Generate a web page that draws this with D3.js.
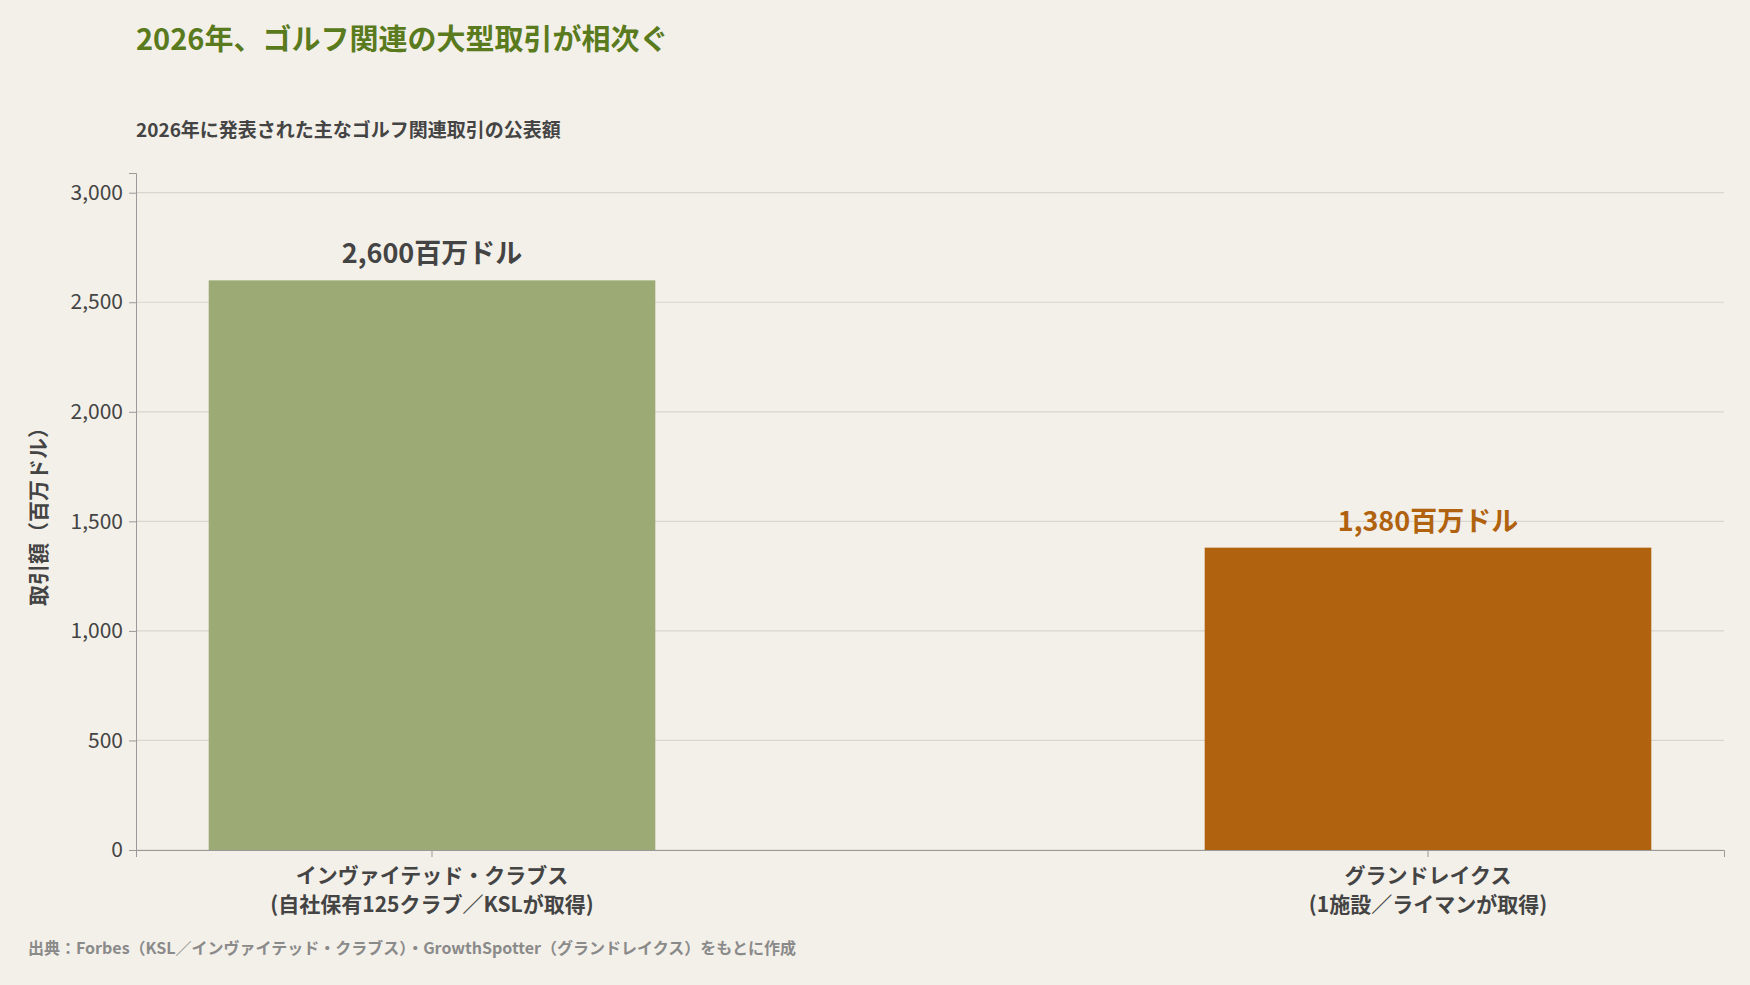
<!DOCTYPE html>
<html><head><meta charset="utf-8">
<script src="https://cdn.jsdelivr.net/npm/d3@7"></script>
<style>
body{margin:0;background:#f3f0e9;font-family:"Noto Sans CJK JP","Noto Sans",sans-serif;}
</style></head><body>
<script>
var categories = ["インヴァイテッド・クラブス\n(自社保有125クラブ／KSLが取得)", "グランドレイクス\n(1施設／ライマンが取得)"];
var values = [2600, 1380];
var valueLabels = ["2,600百万ドル", "1,380百万ドル"];
var barColors = ["#9caa76", "#b0620f"];
var labelColors = ["#444444", "#b0620f"];
var yTicks = [0, 500, 1000, 1500, 2000, 2500, 3000];

var W = 1750, H = 985;
var margin = {top: 173, right: 26, bottom: 135, left: 136};
var w = W - margin.left - margin.right;
var h = H - margin.top - margin.bottom;

var svg = d3.select("body").append("svg").attr("width", W).attr("height", H);
svg.append("rect").attr("width", W).attr("height", H).attr("fill", "#f3f0e9");

svg.append("text").attr("x", 136).attr("y", 50).attr("font-size", 29).attr("font-weight", 700)
  .attr("fill", "#5a7a1e").text("2026年、ゴルフ関連の大型取引が相次ぐ");
svg.append("text").attr("x", 136).attr("y", 137).attr("font-size", 19).attr("font-weight", 700)
  .attr("fill", "#444").text("2026年に発表された主なゴルフ関連取引の公表額");

var g = svg.append("g").attr("transform", "translate(" + margin.left + "," + margin.top + ")");

var y = d3.scaleLinear().domain([0, 3090]).range([h, 0]);
var x = d3.scaleBand().domain(categories).range([0, w]).paddingInner(0.5516).paddingOuter(0.073);

// grid
g.selectAll(".grid").data(yTicks).enter().append("line")
  .attr("x1", 0).attr("x2", w).attr("y1", d => y(d)).attr("y2", d => y(d))
  .attr("stroke", "#d9d6cf").attr("stroke-width", 1.2);

var yAxis = g.append("g").call(d3.axisLeft(y).tickValues(yTicks).tickSize(7).tickPadding(6));
yAxis.selectAll("text").attr("font-size", 21).attr("fill", "#444").attr("font-family", "Noto Sans CJK JP");
yAxis.selectAll("line,path").attr("stroke", "#999");

g.selectAll(".bar").data(values).enter().append("rect")
  .attr("x", (d, i) => x(categories[i])).attr("width", x.bandwidth())
  .attr("y", d => y(d)).attr("height", d => h - y(d))
  .attr("fill", (d, i) => barColors[i]);

g.selectAll(".vlab").data(values).enter().append("text")
  .attr("x", (d, i) => x(categories[i]) + x.bandwidth() / 2).attr("y", d => y(d) - 17)
  .attr("text-anchor", "middle").attr("font-size", 27).attr("font-weight", 700)
  .attr("fill", (d, i) => labelColors[i]).text((d, i) => valueLabels[i]);

var xAxis = g.append("g").attr("transform", "translate(0," + h + ")")
  .call(d3.axisBottom(x).tickSize(7).tickFormat(""));
xAxis.selectAll("line,path").attr("stroke", "#999");

categories.forEach(function(c) {
  var t = g.append("text").attr("x", x(c) + x.bandwidth() / 2).attr("y", h + 33)
    .attr("text-anchor", "middle").attr("font-size", 21).attr("font-weight", 700).attr("fill", "#444");
  c.split("\n").forEach(function(line, i) {
    t.append("tspan").attr("x", x(c) + x.bandwidth() / 2).attr("dy", i ? 29 : 0).text(line);
  });
});

svg.append("text").attr("transform", "translate(46," + (margin.top + h / 2) + ") rotate(-90)")
  .attr("text-anchor", "middle").attr("font-size", 21).attr("font-weight", 700).attr("fill", "#444")
  .text("取引額（百万ドル）");

svg.append("text").attr("x", 28).attr("y", 954).attr("font-size", 16).attr("font-weight", 700)
  .attr("fill", "#8a8a8a").text("出典：Forbes（KSL／インヴァイテッド・クラブス）・GrowthSpotter（グランドレイクス）をもとに作成");
</script>
</body></html>
